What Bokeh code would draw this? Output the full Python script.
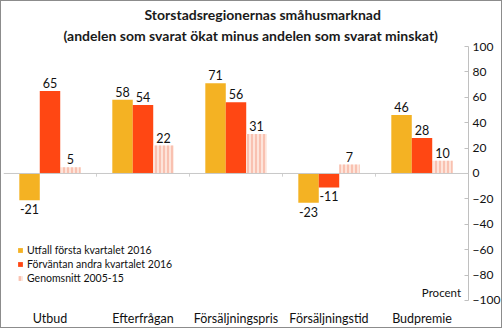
from bokeh.plotting import figure
from bokeh.models import (ColumnDataSource, FactorRange, Range1d, FixedTicker, Legend,
                          LegendItem, Label, Span, LabelSet, Title)
from bokeh.core.properties import value
from bokeh.transform import dodge
from bokeh.embed import file_html
from bokeh.resources import INLINE

categories = ["Utbud", "Efterfrågan", "Försäljningspris", "Försäljningstid", "Budpremie"]
utfall = [-21, 58, 71, -23, 46]
forvantan = [65, 54, 56, -11, 28]
genomsnitt = [5, 22, 31, 7, 10]
series_names = ["Utfall första kvartalet 2016", "Förväntan andra kvartalet 2016", "Genomsnitt 2005-15"]
y_ticks = [-100, -80, -60, -40, -20, 0, 20, 40, 60, 80, 100]
title_lines = ["Storstadsregionernas småhusmarknad",
               "(andelen som svarat ökat minus andelen som svarat minskat)"]

FONT = "Lato"
Y_MIN, Y_MAX = -100, 100
Y_FLOOR = -120.5   # extra room under the axis for the category names

p = figure(width=502, height=328, x_range=FactorRange(*categories), y_range=Range1d(Y_FLOOR, Y_MAX),
           output_backend="svg", toolbar_location=None, y_axis_location="right",
           min_border_left=2, min_border_right=30, min_border_bottom=3, min_border_top=45)
p.outline_line_color = None
p.xgrid.visible = False
p.ygrid.visible = False
p.title.visible = False
p.styles = {"border": "1px solid #8c8c8c", "box-sizing": "border-box"}

# titles (the one added later sits further from the plot)
p.add_layout(Title(text=title_lines[1], align="left", offset=60, standoff=5,
                   text_font=FONT, text_font_size="14px", text_font_style="bold",
                   text_color="#1a1a1a"), "above")
p.add_layout(Title(text=title_lines[0], align="left", offset=141, standoff=0,
                   text_font=FONT, text_font_size="14px", text_font_style="bold",
                   text_color="#1a1a1a"), "above")

vals = {"u": utfall, "f": forvantan, "g": genomsnitt}
src = ColumnDataSource(dict(cat=categories, u=utfall, f=forvantan, g=genomsnitt,
                            ybase=[Y_MIN] * len(categories)))

w = 0.22
r1 = p.vbar(x=dodge("cat", -w, range=p.x_range), top="u", width=w, source=src,
            fill_color="#F4B223", line_color=None)
r2 = p.vbar(x=dodge("cat", 0, range=p.x_range), top="f", width=w, source=src,
            fill_color="#FF4713", line_color=None)
r3 = p.vbar(x=dodge("cat", w, range=p.x_range), top="g", width=w, source=src,
            fill_color="#FDE4DA", line_color=None, hatch_pattern="|", hatch_color="#F7AE9A",
            hatch_scale=4, hatch_weight=1.3)

# zero line
p.add_layout(Span(location=0, dimension="width", line_color="#c8c8c8", line_width=1))
p.segment(x0=[1, 2, 3, 4], x1=[1, 2, 3, 4], y0=0, y1=-2.5, line_color="#d0d0d0", line_width=1)

# data labels
for key, off in (("u", -w), ("f", 0), ("g", w)):
    v = vals[key]
    pos = ColumnDataSource(dict(cat=[c for c, x in zip(categories, v) if x >= 0],
                                y=[x for x in v if x >= 0], t=[str(x) for x in v if x >= 0]))
    neg = ColumnDataSource(dict(cat=[c for c, x in zip(categories, v) if x < 0],
                                y=[x for x in v if x < 0], t=[str(x) for x in v if x < 0]))
    p.add_layout(LabelSet(x=dodge("cat", off, range=p.x_range), y="y", text="t", source=pos,
                          text_align="center", text_baseline="bottom", y_offset=3,
                          text_font=value(FONT), text_font_size="12.5px", text_color="#111111"))
    p.add_layout(LabelSet(x=dodge("cat", off, range=p.x_range), y="y", text="t", source=neg,
                          text_align="center", text_baseline="top", y_offset=-4,
                          text_font=value(FONT), text_font_size="12.5px", text_color="#111111"))

# category names under the value range
p.add_layout(LabelSet(x="cat", y="ybase", text="cat", source=src, y_offset=-18,
                      text_align="center", text_baseline="middle",
                      text_font=value(FONT), text_font_size="12.5px", text_color="#111111"))

# right axis
ya = p.yaxis[0]
ya.ticker = FixedTicker(ticks=y_ticks)
ya.bounds = (Y_MIN, Y_MAX)
ya.axis_line_color = "#c0c0c0"
ya.major_tick_in = 4
ya.major_tick_out = 0
ya.major_tick_line_color = "#c0c0c0"
ya.minor_tick_line_color = None
ya.major_label_text_font = FONT
ya.major_label_text_font_size = "12px"
ya.major_label_text_color = "#111111"
ya.major_label_standoff = 4

# x axis hidden (names drawn above)
p.xaxis[0].visible = False

# legend
legend = Legend(items=[LegendItem(label=series_names[0], renderers=[r1]),
                       LegendItem(label=series_names[1], renderers=[r2]),
                       LegendItem(label=series_names[2], renderers=[r3])],
                location=(14, 42), orientation="vertical",
                glyph_width=6, glyph_height=6, label_height=13, label_standoff=4,
                spacing=1, padding=0, margin=0,
                label_text_font=FONT, label_text_font_size="10.5px", label_text_color="#111111",
                background_fill_alpha=0, border_line_color=None)
p.add_layout(legend)

p.add_layout(Label(x=4.92, y=-94, text="Procent", text_align="right",
                   text_baseline="middle", text_font=FONT, text_font_size="11.5px",
                   text_color="#111111"))

open("out.html", "w").write(file_html(p, INLINE))
